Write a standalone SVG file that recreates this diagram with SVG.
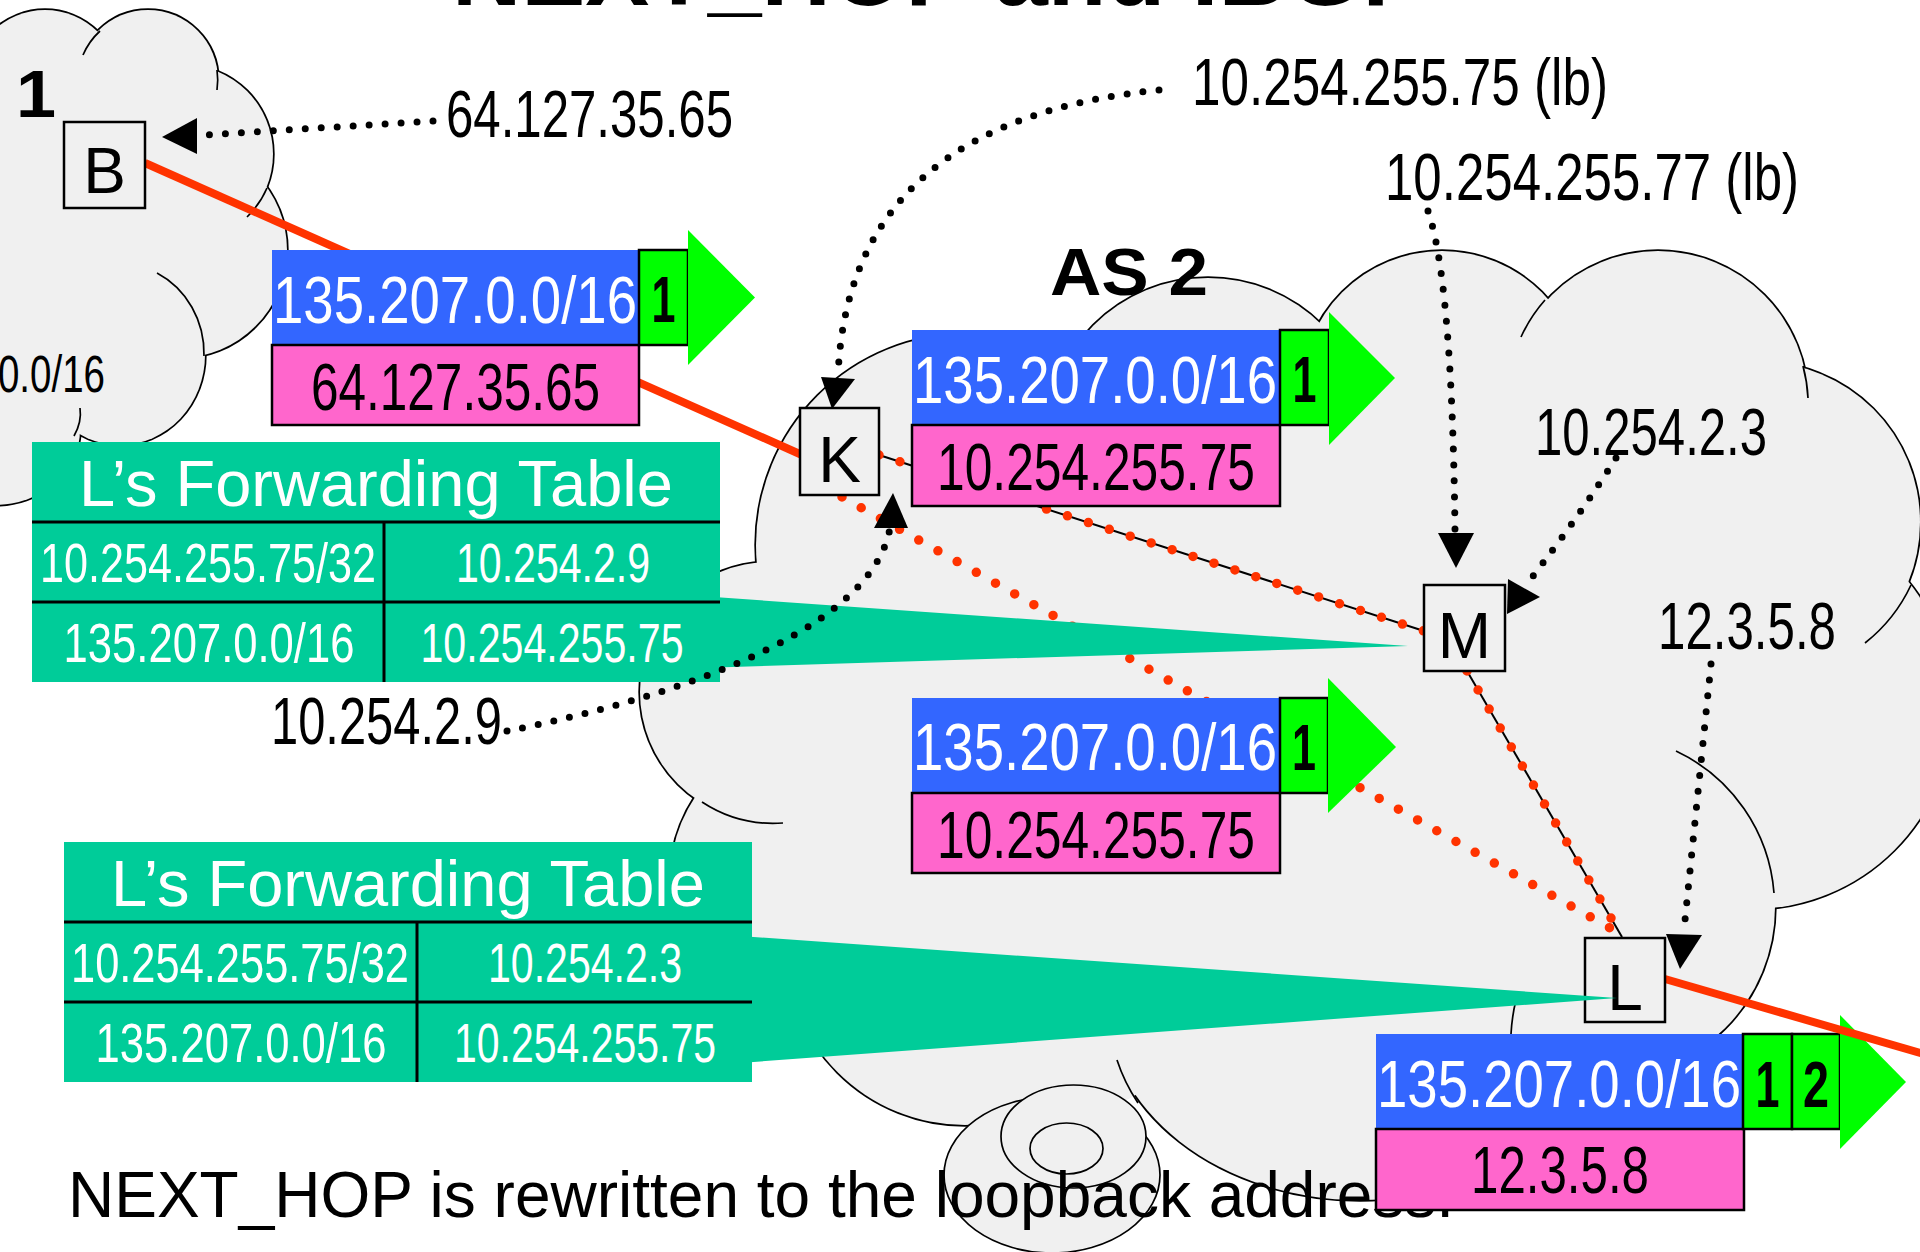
<svg xmlns="http://www.w3.org/2000/svg" xmlns:xlink="http://www.w3.org/1999/xlink" width="1920" height="1252" viewBox="0 0 1920 1252">
<style>
  text { font-family: "Liberation Sans", Arial, "DejaVu Sans", sans-serif; fill: #000; }
  .cloud-edge { fill: #f0f0f0; stroke: #000; stroke-width: 3.4; }
  .cloud-fill { fill: #f0f0f0; stroke: none; }
  .crease { fill: none; stroke: #000; stroke-width: 1.7; }
  .puff { fill: #f0f0f0; stroke: #000; stroke-width: 1.7; }
  .node rect { fill: #f0f0f0; stroke: #000; stroke-width: 2.5; }
  .node text { font-size: 64px; text-anchor: middle; }
  .ebgp { fill: none; stroke: #ff3300; stroke-width: 8; }
  .igp { fill: none; stroke: #000; stroke-width: 2; }
  .ibgp { fill: none; stroke: #ff3300; stroke-width: 9.5; stroke-dasharray: 0 22; stroke-linecap: round; }
  .pointer { fill: none; stroke: #000; stroke-width: 7; stroke-dasharray: 0 16; stroke-linecap: round; }
  .head { fill: #000; }
  .prefix { fill: #3366ff; }
  .nexthop { fill: #ff66cc; stroke: #000; stroke-width: 2.5; }
  .aspath { fill: #00ff00; stroke: #000; stroke-width: 2.5; }
  .flow { fill: #00ff00; }
  .prefix-txt { font-size: 67px; fill: #fff; }
  .nh-txt { font-size: 66px; text-anchor: middle; }
  .as-txt { font-size: 64px; font-weight: bold; text-anchor: middle; }
  .addr { font-size: 66px; }
  .fwd { fill: #00cc99; }
  .fwd-line { stroke: #000; stroke-width: 3; }
  .fwd-title { font-size: 65px; fill: #fff; text-anchor: middle; }
  .fwd-txt { font-size: 56px; fill: #fff; text-anchor: middle; }
  .as-label { font-size: 66px; font-weight: bold; }
</style>
<defs>
  <!-- lobes of the AS 1 cloud (left edge) -->
  <g id="as1-lobes">
    <circle cx="45" cy="85" r="75"/>
    <circle cx="148" cy="80" r="70"/>
    <circle cx="184" cy="154" r="89"/>
    <circle cx="179" cy="250" r="108"/>
    <ellipse cx="120" cy="355" rx="85" ry="90"/>
    <ellipse cx="-5" cy="430" rx="85" ry="75"/>
  </g>
  <!-- lobes of the AS 2 cloud -->
  <g id="as2-lobes">
    <circle cx="967" cy="545" r="211"/>
    <circle cx="770" cy="692" r="130"/>
    <circle cx="820" cy="880" r="150"/>
    <circle cx="965" cy="945" r="180"/>
    <ellipse cx="1360" cy="1000" rx="255" ry="200"/>
    <circle cx="1208" cy="440" r="162"/>
    <circle cx="1442" cy="392" r="141"/>
    <circle cx="1658" cy="401" r="150"/>
    <circle cx="1760" cy="522" r="160"/>
    <circle cx="1752" cy="708" r="201"/>
    <circle cx="1603" cy="907" r="172"/>
  </g>
</defs>

<!-- slide title, mostly above the visible area -->
<text id="title" x="452" y="5" font-size="96" font-weight="bold">NEXT_HOP and IBGP</text>

<!-- AS 1 cloud -->
<g id="as1">
  <use xlink:href="#as1-lobes" class="cloud-edge"/>
  <use xlink:href="#as1-lobes" class="cloud-fill"/>
  <polygon class="cloud-fill" points="-30,20 45,85 148,80 184,154 179,250 120,355 -5,430 -30,430"/>
  <path class="crease" d="M83,55 A70,70 0 0 1 100,31"/>
  <path class="crease" d="M217,70 A70,70 0 0 1 217,90"/>
  <path class="crease" d="M267,188 A89,89 0 0 1 247,217"/>
  <path class="crease" d="M157,273 A85,90 0 0 1 204,356"/>
  <path class="crease" d="M80,408 Q82,422 74,436"/>
  <text class="as-label" x="56" y="117" text-anchor="end" textLength="160" lengthAdjust="spacingAndGlyphs">AS 1</text>
  <text x="105" y="392" text-anchor="end" textLength="257" lengthAdjust="spacingAndGlyphs" style="font-size:52px">135.207.0.0/16</text>
</g>

<!-- AS 2 cloud -->
<g id="as2">
  <use xlink:href="#as2-lobes" class="cloud-edge"/>
  <use xlink:href="#as2-lobes" class="cloud-fill"/>
  <polygon class="cloud-fill" points="967,545 1208,440 1442,392 1658,401 1760,522 1752,708 1603,907 1360,1000 965,945 820,880 770,692"/>
  <ellipse class="cloud-fill" cx="1080" cy="1040" rx="90" ry="70"/>
  <path class="crease" d="M702,802 A130,130 0 0 0 783,823"/>
  <path class="crease" d="M1521,337 A150,150 0 0 1 1545,300"/>
  <path class="crease" d="M1803,366 A150,150 0 0 1 1808,398"/>
  <path class="crease" d="M1911,585 A160,160 0 0 1 1865,643"/>
  <path class="crease" d="M1676,751 A172,172 0 0 1 1774,893"/>
  <path class="crease" d="M1117,1060 A255,200 0 0 0 1138,1103"/>
  <path class="crease" d="M1516,1000 Q1512,1016 1511,1034"/>
  <ellipse class="puff" cx="1052" cy="1175" rx="108" ry="78"/>
  <ellipse class="puff" cx="1073.5" cy="1136.5" rx="72.5" ry="51.5"/>
  <ellipse class="puff" cx="1066.5" cy="1148.5" rx="36.5" ry="25.5"/>
  <text class="as-label" x="1050" y="295" textLength="158" lengthAdjust="spacingAndGlyphs">AS 2</text>
</g>

<!-- caption -->
<text id="caption" x="68" y="1217" font-size="64">NEXT_HOP is rewritten to the loopback address.</text>

<!-- route announced by L to the next AS -->
<g id="route-L" transform="translate(1376,1034)">
  <rect class="prefix" x="0" y="0" width="367" height="95"/>
  <rect class="nexthop" x="0" y="95" width="368" height="81"/>
  <rect class="aspath" x="367" y="0" width="49" height="95"/>
  <rect class="aspath" x="416" y="0" width="48" height="95"/>
  <polygon class="flow" points="464,-19 530,48 464,115"/>
  <text class="prefix-txt" x="1" y="73" textLength="364" lengthAdjust="spacingAndGlyphs">135.207.0.0/16</text>
  <text class="nh-txt" x="184" y="159" textLength="178" lengthAdjust="spacingAndGlyphs">12.3.5.8</text>
  <text class="as-txt" x="391.5" y="73" textLength="24" lengthAdjust="spacingAndGlyphs">1</text>
  <text class="as-txt" x="440" y="73" textLength="26" lengthAdjust="spacingAndGlyphs">2</text>
</g>

<!-- links between routers -->
<g id="connectors">
  <path class="ebgp" d="M145,163 L802,455"/>
  <path class="ebgp" d="M1665,979 L1965,1066"/>
  <path class="igp" d="M879,455 L1424,631"/>
  <path class="igp" d="M1467,671 L1622,937"/>
  <path class="ibgp" d="M879,455 L1424,631"/>
  <path class="ibgp" d="M842,497 L1619,933"/>
  <path class="ibgp" d="M1467,671 L1622,937"/>
</g>

<!-- routers -->
<g id="node-B" class="node">
  <rect x="64" y="122" width="81" height="86"/>
  <text x="104.5" y="193">B</text>
</g>
<g id="node-K" class="node">
  <rect x="800" y="408" width="79" height="87"/>
  <text x="839.5" y="482">K</text>
</g>
<g id="node-M" class="node">
  <rect x="1424" y="585" width="81" height="86"/>
  <text x="1464.5" y="658">M</text>
</g>
<g id="node-L" class="node">
  <rect x="1585" y="938" width="80" height="84"/>
  <text x="1625" y="1010">L</text>
</g>

<!-- forwarding table at M -->
<g id="fwd-M">
  <polygon class="fwd" points="700,596 1408,646 700,668"/>
  <rect class="fwd" x="32" y="442" width="688" height="240"/>
  <line class="fwd-line" x1="32" y1="522" x2="720" y2="522"/>
  <line class="fwd-line" x1="32" y1="602" x2="720" y2="602"/>
  <line class="fwd-line" x1="384" y1="522" x2="384" y2="682"/>
  <text class="fwd-title" x="376" y="506">L’s Forwarding Table</text>
  <text class="fwd-txt" x="208" y="582" textLength="336" lengthAdjust="spacingAndGlyphs">10.254.255.75/32</text>
  <text class="fwd-txt" x="553" y="582" textLength="194" lengthAdjust="spacingAndGlyphs">10.254.2.9</text>
  <text class="fwd-txt" x="209" y="662" textLength="291" lengthAdjust="spacingAndGlyphs">135.207.0.0/16</text>
  <text class="fwd-txt" x="552" y="662" textLength="263" lengthAdjust="spacingAndGlyphs">10.254.255.75</text>
</g>

<!-- forwarding table at L -->
<g id="fwd-L">
  <polygon class="fwd" points="740,936 1617,998 740,1063"/>
  <rect class="fwd" x="64" y="842" width="688" height="240"/>
  <line class="fwd-line" x1="64" y1="922" x2="752" y2="922"/>
  <line class="fwd-line" x1="64" y1="1002" x2="752" y2="1002"/>
  <line class="fwd-line" x1="417" y1="922" x2="417" y2="1082"/>
  <text class="fwd-title" x="408" y="906">L’s Forwarding Table</text>
  <text class="fwd-txt" x="240" y="982" textLength="338" lengthAdjust="spacingAndGlyphs">10.254.255.75/32</text>
  <text class="fwd-txt" x="585" y="982" textLength="194" lengthAdjust="spacingAndGlyphs">10.254.2.3</text>
  <text class="fwd-txt" x="241" y="1062" textLength="291" lengthAdjust="spacingAndGlyphs">135.207.0.0/16</text>
  <text class="fwd-txt" x="585" y="1062" textLength="262" lengthAdjust="spacingAndGlyphs">10.254.255.75</text>
</g>

<!-- route B sends to K -->
<g id="route-B" transform="translate(272,250)">
  <rect class="prefix" x="0" y="0" width="367" height="95"/>
  <rect class="nexthop" x="0" y="95" width="367" height="80"/>
  <rect class="aspath" x="367" y="0" width="49" height="95"/>
  <polygon class="flow" points="416,-20 483,47.5 416,115"/>
  <text class="prefix-txt" x="1" y="73" textLength="364" lengthAdjust="spacingAndGlyphs">135.207.0.0/16</text>
  <text class="nh-txt" x="183.5" y="160" textLength="289" lengthAdjust="spacingAndGlyphs">64.127.35.65</text>
  <text class="as-txt" x="391.5" y="72" textLength="24" lengthAdjust="spacingAndGlyphs">1</text>
</g>

<!-- route K sends to M -->
<g id="route-K-M" transform="translate(912,330)">
  <rect class="prefix" x="0" y="0" width="368" height="95"/>
  <rect class="nexthop" x="0" y="95" width="368" height="81"/>
  <rect class="aspath" x="368" y="0" width="49" height="95"/>
  <polygon class="flow" points="417,-18 483,48 417,115"/>
  <text class="prefix-txt" x="1" y="73" textLength="364" lengthAdjust="spacingAndGlyphs">135.207.0.0/16</text>
  <text class="nh-txt" x="184" y="160" textLength="318" lengthAdjust="spacingAndGlyphs">10.254.255.75</text>
  <text class="as-txt" x="392.5" y="72" textLength="24" lengthAdjust="spacingAndGlyphs">1</text>
</g>

<!-- route K sends to L -->
<g id="route-K-L" transform="translate(912,698)">
  <rect class="prefix" x="0" y="0" width="368" height="95"/>
  <rect class="nexthop" x="0" y="95" width="368" height="80"/>
  <rect class="aspath" x="368" y="0" width="48" height="95"/>
  <polygon class="flow" points="416,-20 484,49 416,115"/>
  <text class="prefix-txt" x="1" y="72" textLength="364" lengthAdjust="spacingAndGlyphs">135.207.0.0/16</text>
  <text class="nh-txt" x="184" y="160" textLength="318" lengthAdjust="spacingAndGlyphs">10.254.255.75</text>
  <text class="as-txt" x="392" y="72" textLength="24" lengthAdjust="spacingAndGlyphs">1</text>
</g>

<!-- address call-outs -->
<g id="callouts">
  <path class="pointer" d="M433,121 L205,135"/>
  <polygon class="head" points="162,137 197,118 197,154"/>
  <text class="addr" x="446" y="137" textLength="287" lengthAdjust="spacingAndGlyphs">64.127.35.65</text>

  <path class="pointer" d="M1159,90 C960,110 845,200 838,376"/>
  <polygon class="head" points="832,409 821,377 855,379"/>
  <text class="addr" x="1192" y="105" textLength="416" lengthAdjust="spacingAndGlyphs">10.254.255.75 (lb)</text>

  <path class="pointer" d="M1428,211 Q1452,280 1455,530"/>
  <polygon class="head" points="1456,568 1438,533 1474,533"/>
  <text class="addr" x="1385" y="200" textLength="414" lengthAdjust="spacingAndGlyphs">10.254.255.77 (lb)</text>

  <path class="pointer" d="M1616,458 Q1580,515 1530,580"/>
  <polygon class="head" points="1508,579 1540,597 1507,614"/>
  <text class="addr" x="1535" y="455" textLength="232" lengthAdjust="spacingAndGlyphs">10.254.2.3</text>

  <path class="pointer" d="M1711,664 L1684,930"/>
  <polygon class="head" points="1680,969 1666,934 1702,935"/>
  <text class="addr" x="1658" y="649" textLength="178" lengthAdjust="spacingAndGlyphs">12.3.5.8</text>

  <path class="pointer" d="M507,731 C640,705 870,640 890,528"/>
  <polygon class="head" points="893,493 874,528 908,528"/>
  <text class="addr" x="271" y="744" textLength="231" lengthAdjust="spacingAndGlyphs">10.254.2.9</text>
</g>
</svg>
